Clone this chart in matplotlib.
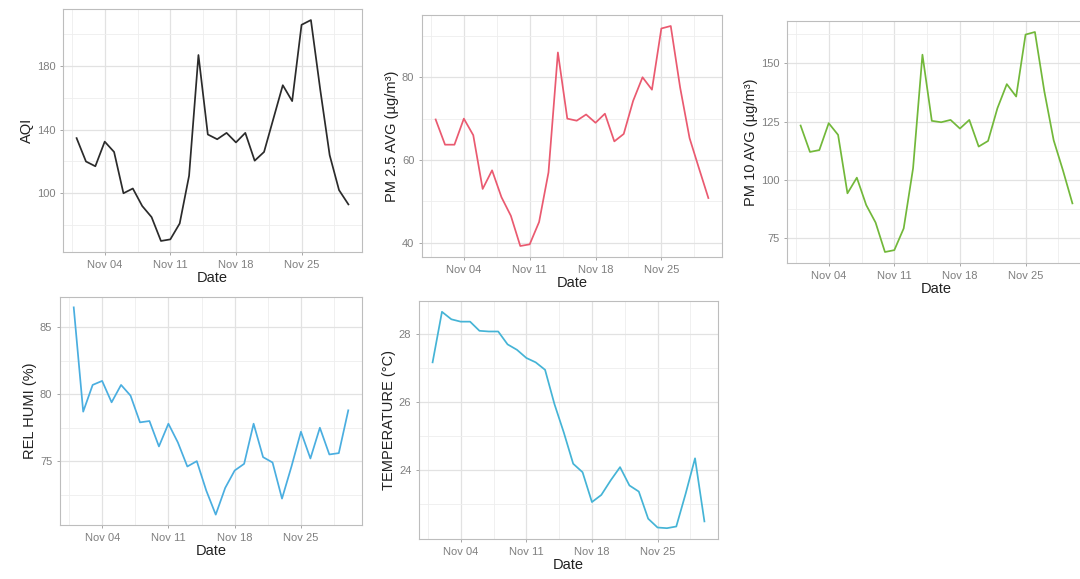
import numpy as np
import pandas as pd
import matplotlib
matplotlib.use("Agg")
import matplotlib.pyplot as plt
import matplotlib.dates as mdates

plt.rcParams['font.family'] = ['Liberation Sans', 'DejaVu Sans']

dates = pd.date_range("2023-11-01", periods=30, freq="D")

aqi = [134.7, 120, 117, 132.5, 126, 100, 103, 92, 85, 70,
       71, 81, 111, 187, 137, 134, 138, 132, 138, 120.5,
       126, 147, 168, 158, 206, 209, 165, 124, 102, 93]
pm25 = [69.8, 63.7, 63.7, 70, 66, 53, 57.5, 51, 46.5, 39.2,
        39.6, 45, 57, 86, 70, 69.5, 71, 69, 71.2, 64.5,
        66.3, 74.3, 80, 77, 91.8, 92.4, 77.5, 65.3, 58, 50.8]
pm10 = [123.3, 112, 112.8, 124.3, 119.3, 94.3, 101, 89.3, 81.8, 69.2,
        70, 79.3, 105, 153.6, 125.3, 124.7, 125.7, 122, 125.7, 114.3,
        116.7, 130.7, 141, 135.7, 162.2, 163.3, 138, 117, 104, 90]
rel_humi = [86.5, 78.7, 80.7, 81.0, 79.4, 80.7, 79.9, 77.9, 78.0, 76.1,
            77.8, 76.4, 74.6, 75.0, 72.8, 71.0, 73.0, 74.3, 74.8, 77.8,
            75.3, 74.9, 72.2, 74.6, 77.2, 75.2, 77.5, 75.5, 75.6, 78.8]
temperature = [27.17, 28.66, 28.44, 28.37, 28.37, 28.1, 28.08, 28.08, 27.7, 27.54,
               27.3, 27.17, 26.95, 25.94, 25.1, 24.18, 23.93, 23.05, 23.26, 23.69,
               24.08, 23.54, 23.36, 22.56, 22.3, 22.28, 22.33, 23.3, 24.34, 22.48]

x_ticks = pd.to_datetime(["2023-11-04", "2023-11-11", "2023-11-18", "2023-11-25"])
x_minor = pd.to_datetime(["2023-10-31 12:00", "2023-11-07 12:00", "2023-11-14 12:00",
                          "2023-11-21 12:00", "2023-11-28 12:00"])

panels = [
    # values, ylabel, colour, major y, minor y, rect (px: left, top, right, bottom)
    (aqi, "AQI", "#2b2b2b", [100, 140, 180], [80, 120, 160, 200], (63, 9, 362, 252)),
    (pm25, "PM 2.5 AVG (µg/m³)", "#ea5a70", [40, 60, 80], [50, 70, 90], (422, 15, 722, 257)),
    (pm10, "PM 10 AVG (µg/m³)", "#72b83a", [75, 100, 125, 150], [87.5, 112.5, 137.5, 162.5], (787, 21, 1086, 263)),
    (rel_humi, "REL HUMI (%)", "#4aaee0", [75, 80, 85], [72.5, 77.5, 82.5], (60, 297, 362, 525)),
    (temperature, "TEMPERATURE (°C)", "#45b4d6", [24, 26, 28], [23, 25, 27], (419, 301, 718, 539)),
]

W, H = 1080, 579
fig = plt.figure(figsize=(W / 100, H / 100), dpi=100)

for vals, ylabel, color, ymaj, ymin, (l, t, r, b) in panels:
    ax = fig.add_axes([l / W, (H - b) / H, (r - l) / W, (b - t) / H])
    ax.plot(dates, vals, color=color, lw=1.25, zorder=3)
    ax.margins(x=0.05, y=0.05)

    ax.set_xticks(x_ticks)
    ax.set_xticks(x_minor, minor=True)
    ax.xaxis.set_major_formatter(mdates.DateFormatter("%b %d"))
    ax.set_yticks(ymaj)
    ax.set_yticks(ymin, minor=True)
    ax.set_yticklabels([str(v) for v in ymaj])

    ax.grid(which="major", color="#e2e2e2", lw=0.9)
    ax.grid(which="minor", color="#eeeeee", lw=0.6)
    ax.set_axisbelow(True)

    ax.tick_params(which="major", length=2.5, width=0.6, color="#999999",
                   labelsize=8, labelcolor="#7f7f7f", pad=3)
    ax.tick_params(which="minor", length=0)
    for s in ax.spines.values():
        s.set_color("#bdbdbd")
        s.set_linewidth(0.8)

    ax.set_xlabel("Date", fontsize=10.5, color="#222222", labelpad=1)
    ax.set_ylabel(ylabel, fontsize=10.5, color="#222222", labelpad=2)

fig.savefig("out.png", dpi=100)
